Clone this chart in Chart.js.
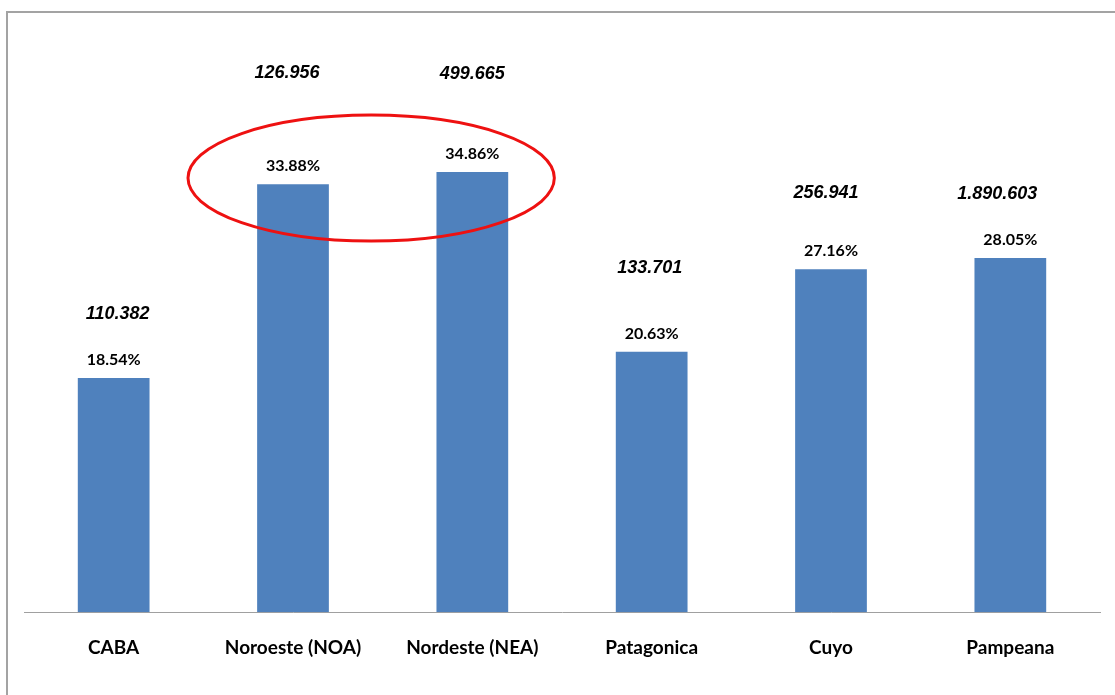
<!DOCTYPE html>
<html>
<head>
<meta charset="utf-8">
<script src="https://cdn.jsdelivr.net/npm/chart.js@4"></script>
<style>
    html, body { margin: 0; padding: 0; background: #fff; overflow: hidden; }
    #wrap  { position: relative; width: 1115px; height: 695px; }
    #frame { position: absolute; left: 6px; top: 11px; right: -10px; bottom: -10px;
             border-left: 2px solid #a3a3a3; border-top: 2px solid #a3a3a3; }
    canvas { position: absolute; left: 0; top: 0; }
</style>
</head>
<body>
<div id="wrap">
    <div id="frame"></div>
    <canvas id="regionChart" width="1115" height="695"></canvas>
</div>
<script>
    // ── Data ───────────────────────────────────
    const regions    = ['CABA', 'Noroeste (NOA)', 'Nordeste (NEA)', 'Patagonica', 'Cuyo', 'Pampeana'];
    const shares     = [18.54, 33.88, 34.86, 20.63, 27.16, 28.05];
    const population = [110382, 126956, 499665, 133701, 256941, 1890603];

    // label placement relative to each bar top (px)
    const popOffsetX = [4, -6, 0, -2, -5, -13];
    const popOffsetY = [-64, -111, -98, -84, -76, -64];

    const barColor = '#4f81bd';

    function formatThousands(n) {
        return String(n).replace(/\B(?=(\d{3})+(?!\d))/g, '.');
    }

    // ── Labels + highlight ellipse ─────────────
    const barLabels = {
        id: 'barLabels',
        afterDatasetsDraw(chart) {
            const ctx  = chart.ctx;
            const bars = chart.getDatasetMeta(0).data;
            ctx.save();
            ctx.textAlign = 'center';
            ctx.textBaseline = 'middle';
            ctx.fillStyle = '#000';
            bars.forEach((bar, i) => {
                ctx.font = 'bold 16px Lato';
                ctx.fillText(shares[i].toFixed(2) + '%', bar.x, bar.y - 18);
                ctx.font = 'italic bold 18px "Liberation Sans"';
                ctx.fillText(formatThousands(population[i]), bar.x + popOffsetX[i], bar.y + popOffsetY[i]);
            });

            // red ellipse around NOA / NEA
            const a = bars[1], b = bars[2];
            const left = a.x - 105, right = b.x + 82;
            ctx.beginPath();
            ctx.ellipse((left + right) / 2, (a.y + b.y) / 2, (right - left) / 2, 63, 0, 0, Math.PI * 2);
            ctx.strokeStyle = '#ee1111';
            ctx.lineWidth = 3;
            ctx.stroke();
            ctx.restore();
        }
    };

    // ── Chart ──────────────────────────────────
    new Chart(document.getElementById('regionChart').getContext('2d'), {
        type: 'bar',
        data: {
            labels: regions,
            datasets: [{
                data: shares,
                backgroundColor: barColor,
                borderWidth: 0,
                barPercentage: 0.4,
                categoryPercentage: 1
            }]
        },
        options: {
            responsive: false,
            animation: false,
            events: [],
            layout: { padding: { top: 107, left: 24, right: 15, bottom: 12 } },
            plugins: { legend: { display: false }, tooltip: { enabled: false } },
            scales: {
                y: { display: false, min: 0, max: 40 },
                x: {
                    grid: { display: false, drawTicks: false },
                    border: { display: true, color: '#a0a0a0', width: 1 },
                    ticks: { color: '#000', padding: 24, font: { family: 'Lato', weight: 'bold', size: 19 } }
                }
            }
        },
        plugins: [barLabels]
    });
</script>
</body>
</html>
